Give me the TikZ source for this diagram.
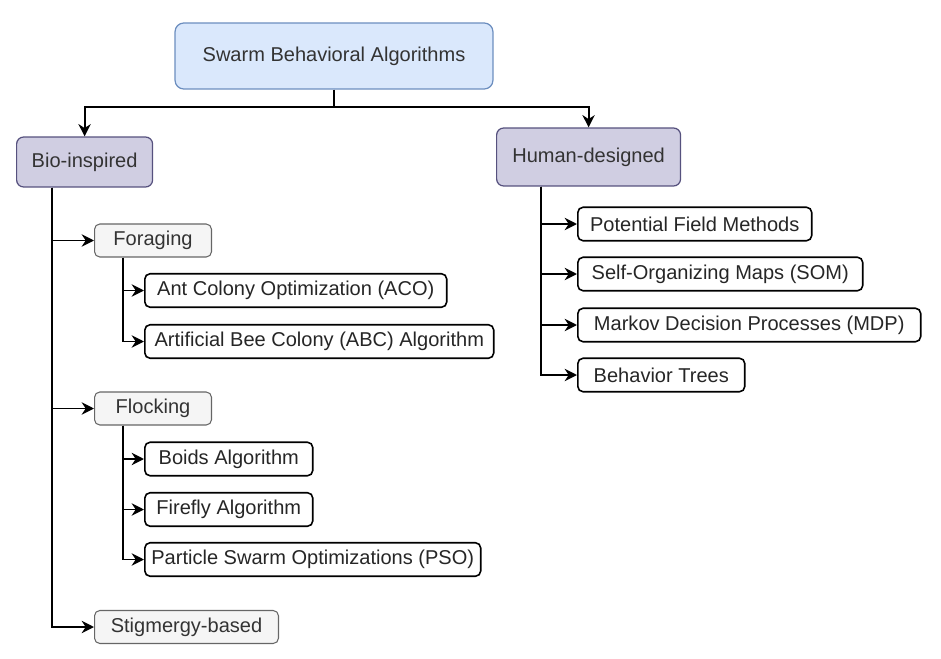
\documentclass[tikz,border=0pt]{standalone}
\usepackage{fontspec}
\setmainfont{Liberation Sans}
\usepackage{xcolor}
\usepackage{tikz}
\usetikzlibrary{positioning,arrows.meta}
\definecolor{rootfill}{HTML}{DAE8FC}
\definecolor{rootline}{HTML}{6C8EBF}
\definecolor{catfill}{HTML}{D0CEE2}
\definecolor{catline}{HTML}{56517E}
\definecolor{grpfill}{HTML}{F5F5F5}
\definecolor{grpline}{HTML}{666666}
\definecolor{txtgray}{HTML}{333333}

\begin{document}
\begin{tikzpicture}[
    x=0.02cm, y=-0.02cm,
    every node/.style={font=\fontsize{11.4}{13.7}\selectfont, inner sep=0pt},
    rootbox/.style={draw=rootline, fill=rootfill, text=txtgray, line width=0.7pt,
      rounded corners=5pt, minimum width=6.36cm, minimum height=1.32cm},
    catbox/.style={draw=catline, fill=catfill, text=txtgray, line width=0.7pt,
      rounded corners=4pt, anchor=west},
    grpbox/.style={draw=grpline, fill=grpfill, text=txtgray, line width=0.6pt,
      rounded corners=3pt, anchor=west, minimum height=0.66cm},
    leaf/.style={draw=black, fill=white, text=black!85, line width=0.9pt,
      rounded corners=3pt, anchor=west, minimum height=0.67cm},
    link/.style={-{Stealth[length=7pt,width=7pt]}, line width=1.1pt, black},
  ]
    % Page frame: 941 x 659 px, 1 px = 0.02 cm
    \useasboundingbox (0,0) rectangle (941,659);

    % --- Top level
    \node[rootbox] (swarm) at (334,56) {Swarm Behavioral Algorithms};
    \node[catbox, minimum width=2.72cm, minimum height=1.0cm] (bio) at (16,162) {Bio-inspired};
    \node[catbox, minimum width=3.68cm, minimum height=1.16cm] (human) at (496,157) {Human-designed};

    \coordinate (split) at (334,107);
    \draw[line width=1.1pt] (swarm.south) -- (split);
    \draw[link] (split) -| (bio.north);
    \draw[link] (split) -| (human.north);

    % --- Bio-inspired branch
    \node[grpbox, minimum width=2.34cm] (forage) at (94,240.5) {Foraging};
    \node[leaf, minimum width=6.04cm] (aco) at (144,290.5) {Ant Colony Optimization (ACO)};
    \node[leaf, minimum width=6.98cm] (abc) at (144,341.5) {Artificial Bee Colony (ABC) Algorithm};

    \node[grpbox, minimum width=2.34cm] (flock) at (94,408.5) {Flocking};
    \node[leaf, minimum width=3.36cm] (boids) at (144,459) {Boids Algorithm};
    \node[leaf, minimum width=3.36cm] (firefly) at (144,509.5) {Firefly Algorithm};
    \node[leaf, minimum width=6.72cm] (pso) at (144,559.5) {Particle Swarm Optimizations (PSO)};

    \node[grpbox, minimum width=3.68cm] (stig) at (94,627) {Stigmergy-based};

    \coordinate (bioroot) at ([xshift=0.72cm]bio.south west);
    \foreach \n in {forage, flock, stig} {
      \draw[link] (bioroot) |- (\n.west);
    }

    \coordinate (forroot) at ([xshift=0.58cm]forage.south west);
    \foreach \n in {aco, abc} {
      \draw[link] (forroot) |- (\n.west);
    }

    \coordinate (flockroot) at ([xshift=0.58cm]flock.south west);
    \foreach \n in {boids, firefly, pso} {
      \draw[link] (flockroot) |- (\n.west);
    }

    % --- Human-designed branch
    \node[leaf, minimum width=4.68cm] (pfm) at (577,224) {Potential Field Methods};
    \node[leaf, minimum width=5.70cm] (som) at (577,274) {Self-Organizing Maps (SOM)};
    \node[leaf, minimum width=6.86cm] (mdp) at (577,325) {Markov Decision Processes (MDP)};
    \node[leaf, minimum width=3.34cm] (btree) at (577,375) {Behavior Trees};

    \coordinate (humroot) at ([xshift=0.90cm]human.south west);
    \foreach \n in {pfm, som, mdp, btree} {
      \draw[link] (humroot) |- (\n.west);
    }
  \end{tikzpicture}
\end{document}
